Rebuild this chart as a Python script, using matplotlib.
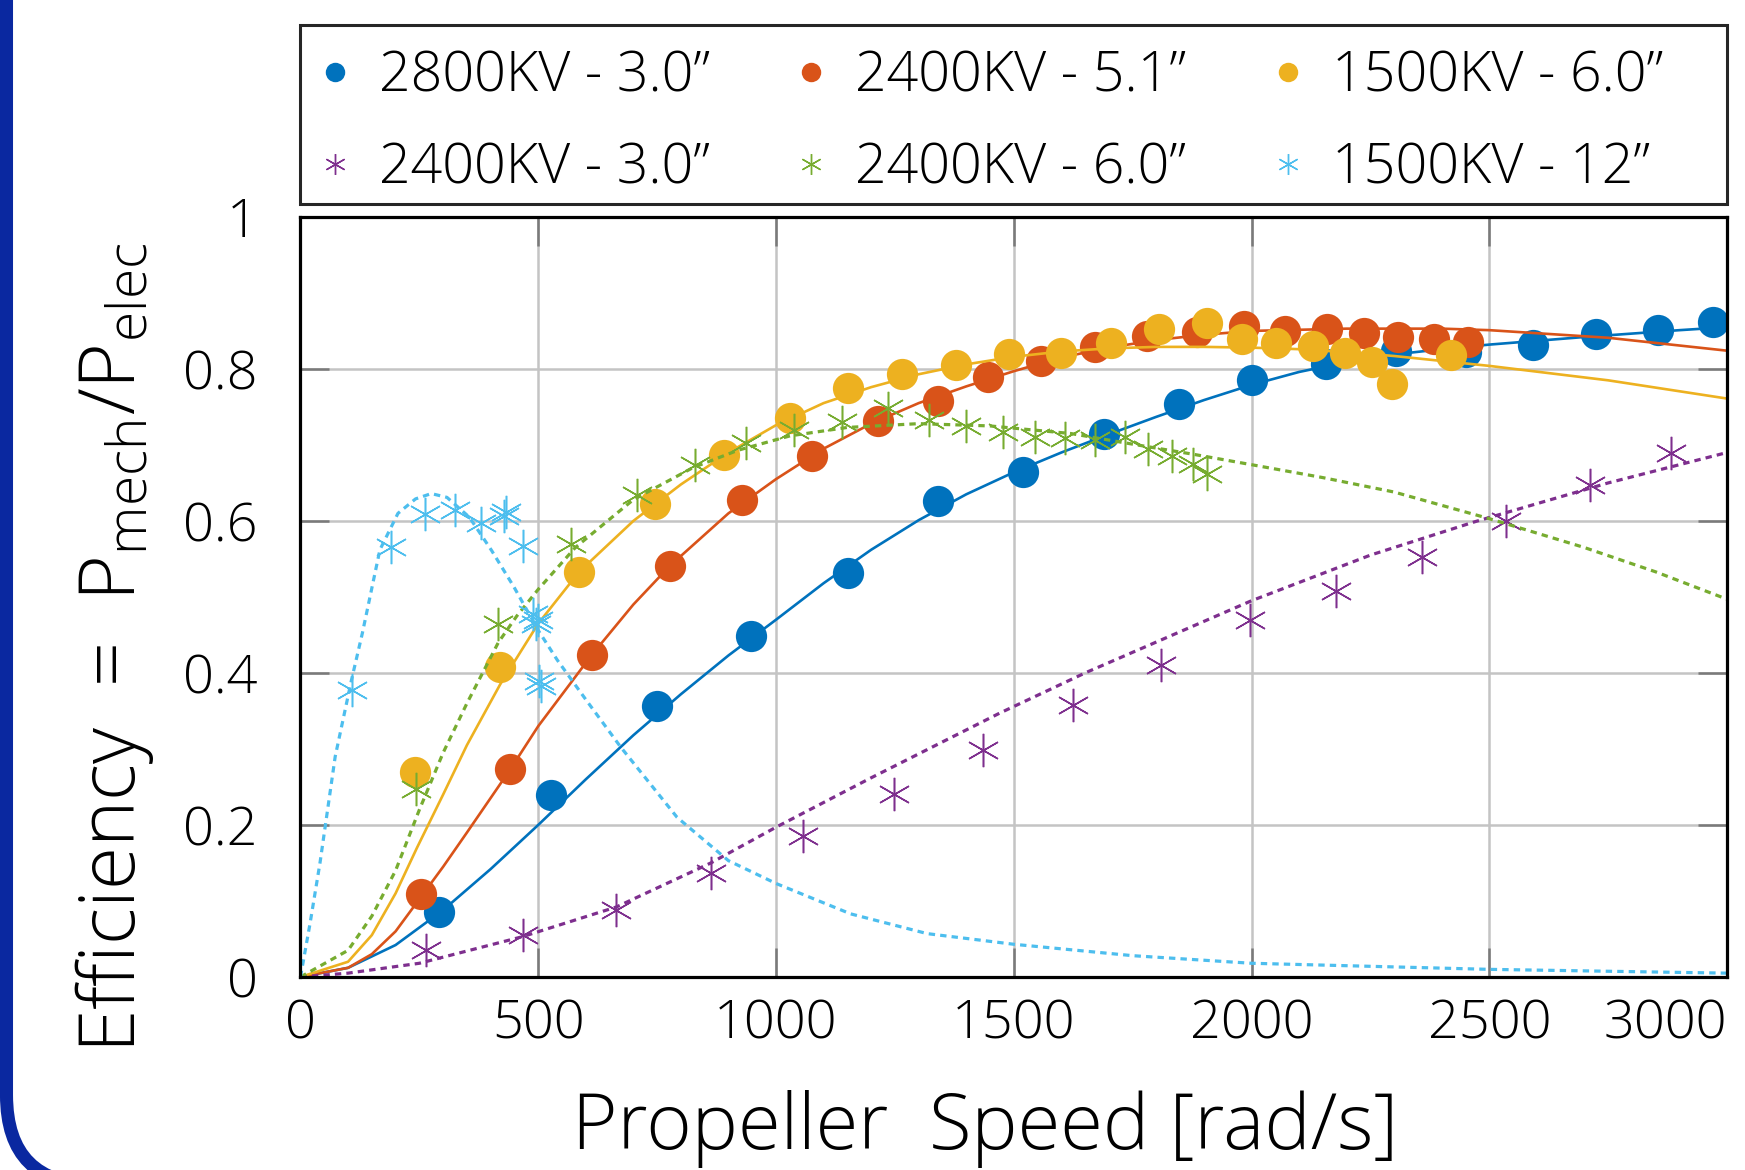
import matplotlib
matplotlib.use('Agg')
import matplotlib.pyplot as plt
from matplotlib.lines import Line2D
from matplotlib.patches import FancyBboxPatch, Rectangle
from matplotlib.transforms import IdentityTransform
import matplotlib.font_manager as fm

# ---------------- data ----------------
blue_x = [292, 526, 749, 948, 1152, 1340, 1519, 1690, 1848, 2000, 2156, 2304, 2452, 2591, 2725, 2854, 2970]
blue_y = [0.085, 0.239, 0.357, 0.448, 0.531, 0.626, 0.665, 0.714, 0.754, 0.785, 0.806, 0.824, 0.822, 0.832, 0.846, 0.851, 0.862]
blue_fit_x = [0, 100, 200, 300, 400, 500, 600, 700, 800, 900, 1000, 1100, 1200, 1300, 1400, 1500, 1600, 1700, 1800, 1900, 2000, 2100, 2200, 2300, 2400, 2500, 2700, 2900, 3000]
blue_fit_y = [0, 0.012, 0.042, 0.088, 0.142, 0.2, 0.26, 0.318, 0.372, 0.423, 0.47, 0.518, 0.562, 0.601, 0.635, 0.664, 0.69, 0.714, 0.737, 0.759, 0.779, 0.796, 0.809, 0.819, 0.826, 0.832, 0.842, 0.851, 0.855]

orange_x = [253, 440, 613, 777, 928, 1075, 1214, 1340, 1445, 1557, 1671, 1781, 1885, 1984, 2070, 2158, 2237, 2308, 2384, 2456]
orange_y = [0.109, 0.274, 0.424, 0.541, 0.627, 0.685, 0.731, 0.758, 0.790, 0.810, 0.829, 0.843, 0.848, 0.856, 0.850, 0.852, 0.847, 0.842, 0.839, 0.836]
orange_fit_x = [0, 100, 150, 200, 253, 300, 350, 440, 500, 613, 700, 777, 900, 1000, 1100, 1200, 1300, 1400, 1500, 1600, 1700, 1800, 1900, 2000, 2200, 2400, 2500, 2750, 3000]
orange_fit_y = [0, 0.012, 0.03, 0.06, 0.105, 0.145, 0.19, 0.272, 0.33, 0.424, 0.49, 0.541, 0.61, 0.655, 0.695, 0.728, 0.755, 0.777, 0.797, 0.815, 0.828, 0.838, 0.845, 0.85, 0.853, 0.853, 0.851, 0.841, 0.824]

yellow_x = [241, 420, 586, 745, 890, 1030, 1152, 1264, 1379, 1491, 1599, 1704, 1806, 1906, 1981, 2052, 2129, 2196, 2253, 2295, 2419]
yellow_y = [0.270, 0.408, 0.533, 0.622, 0.687, 0.736, 0.775, 0.793, 0.805, 0.819, 0.821, 0.834, 0.853, 0.860, 0.839, 0.834, 0.830, 0.821, 0.809, 0.780, 0.818]
yellow_fit_x = [0, 100, 150, 200, 245, 300, 350, 420, 500, 586, 700, 800, 900, 1000, 1100, 1200, 1300, 1400, 1500, 1600, 1700, 1800, 1900, 2000, 2100, 2200, 2300, 2500, 2750, 3000]
yellow_fit_y = [0, 0.02, 0.055, 0.11, 0.17, 0.24, 0.305, 0.385, 0.465, 0.533, 0.60, 0.648, 0.69, 0.726, 0.755, 0.776, 0.793, 0.806, 0.816, 0.823, 0.827, 0.829, 0.829, 0.828, 0.826, 0.822, 0.817, 0.804, 0.785, 0.761]

purple_x = [264, 467, 664, 863, 1057, 1248, 1436, 1624, 1810, 1997, 2178, 2358, 2535, 2712, 2882]
purple_y = [0.035, 0.055, 0.088, 0.137, 0.186, 0.241, 0.298, 0.358, 0.411, 0.469, 0.508, 0.552, 0.600, 0.647, 0.689]
purple_fit_x = [0, 100, 250, 467, 664, 863, 1000, 1200, 1470, 1650, 2000, 2250, 2470, 2750, 3000]
purple_fit_y = [0, 0.005, 0.018, 0.053, 0.092, 0.15, 0.197, 0.262, 0.347, 0.40, 0.495, 0.555, 0.599, 0.65, 0.69]

green_x = [243, 416, 569, 708, 830, 936, 1037, 1138, 1236, 1322, 1400, 1477, 1544, 1608, 1671, 1734, 1782, 1833, 1877, 1906]
green_y = [0.247, 0.464, 0.570, 0.634, 0.673, 0.702, 0.719, 0.730, 0.748, 0.733, 0.725, 0.717, 0.711, 0.709, 0.706, 0.710, 0.694, 0.685, 0.675, 0.662]
green_fit_x = [0, 100, 150, 200, 250, 300, 350, 416, 455, 500, 578, 700, 825, 920, 1030, 1150, 1300, 1450, 1620, 1750, 1875, 2000, 2150, 2300, 2500, 2700, 2850, 3000]
green_fit_y = [0, 0.035, 0.08, 0.14, 0.22, 0.295, 0.36, 0.44, 0.475, 0.51, 0.565, 0.628, 0.67, 0.693, 0.712, 0.723, 0.728, 0.725, 0.715, 0.701, 0.688, 0.674, 0.657, 0.638, 0.603, 0.565, 0.533, 0.497]

lblue_x = [108, 190, 262, 324, 379, 427, 432, 467, 490, 495, 500, 502, 506]
lblue_y = [0.378, 0.566, 0.609, 0.614, 0.597, 0.607, 0.612, 0.567, 0.478, 0.465, 0.470, 0.390, 0.383]
lblue_fit_x = [0, 20, 41, 73, 107, 130, 167, 205, 242, 275, 308, 355, 402, 449, 500, 540, 600, 674, 792, 900, 1000, 1157, 1318, 1500, 1750, 2000, 2500, 3000]
lblue_fit_y = [0, 0.07, 0.15, 0.29, 0.39, 0.452, 0.562, 0.61, 0.629, 0.636, 0.631, 0.605, 0.561, 0.513, 0.456, 0.417, 0.365, 0.302, 0.21, 0.153, 0.123, 0.083, 0.057, 0.043, 0.028, 0.018, 0.01, 0.005]

labels = ['2800KV - 3.0\u201d', '2400KV - 5.1\u201d', '1500KV - 6.0\u201d',
          '2400KV - 3.0\u201d', '2400KV - 6.0\u201d', '1500KV - 12\u201d']
xticks = [0, 500, 1000, 1500, 2000, 2500, 3000]
xtick_labels = ['0', '500', '1000', '1500', '2000', '2500', '3000']
yticks = [0, 0.2, 0.4, 0.6, 0.8, 1.0]
ytick_labels = ['0', '0.2', '0.4', '0.6', '0.8', '1']

# ---------------- style ----------------
names = {f.name for f in fm.fontManager.ttflist}
fam = 'Open Sans' if 'Open Sans' in names else 'DejaVu Sans'
plt.rcParams['font.family'] = [fam, 'DejaVu Sans']
plt.rcParams['font.weight'] = 'light'
plt.rcParams['mathtext.default'] = 'regular'

C_BLUE = '#0072BD'
C_ORANGE = '#D95319'
C_YELLOW = '#EDB120'
C_PURPLE = '#7E2F8E'
C_GREEN = '#77AC30'
C_LBLUE = '#4DBEEE'

fig = plt.figure(figsize=(17.45, 11.70), dpi=100)
ax = fig.add_axes([0.1722, 0.165, 0.8175, 0.6496])

MS_C = 22.5
MS_S = 24
DOT = (0, (2.0, 1.6))

circ = [(blue_x, blue_y, blue_fit_x, blue_fit_y, C_BLUE),
        (orange_x, orange_y, orange_fit_x, orange_fit_y, C_ORANGE),
        (yellow_x, yellow_y, yellow_fit_x, yellow_fit_y, C_YELLOW)]
for x, y, fx, fy, c in circ:
    ax.plot(x, y, linestyle='none', marker='o', ms=MS_C, mfc=c, mec='none', zorder=3)
    ax.plot(fx, fy, '-', color=c, lw=1.9, zorder=3)

stars = [(purple_x, purple_y, purple_fit_x, purple_fit_y, C_PURPLE),
         (green_x, green_y, green_fit_x, green_fit_y, C_GREEN),
         (lblue_x, lblue_y, lblue_fit_x, lblue_fit_y, C_LBLUE)]
for x, y, fx, fy, c in stars:
    ax.plot(x, y, linestyle='none', marker=(6, 2, 0), ms=MS_S, mec=c, mew=1.1, zorder=3)
    ax.plot(fx, fy, linestyle=DOT, color=c, lw=2.3, zorder=3)

ax.set_xlim(0, 3000)
ax.set_ylim(0, 1)
ax.set_xticks(xticks)
ax.set_xticklabels(xtick_labels)
ax.set_yticks(yticks)
ax.set_yticklabels(ytick_labels)
ax.get_xticklabels()[-1].set_horizontalalignment('right')
ax.grid(True, color='#C4C4C4', lw=1.8)
ax.set_axisbelow(True)
ax.tick_params(axis='both', direction='in', length=21, width=1.8, color='#7A7A7A',
               top=True, right=True, labelsize=39, labelcolor='black')
ax.tick_params(axis='x', pad=15)
ax.tick_params(axis='y', pad=31)
for s in ax.spines.values():
    s.set_linewidth(2.3)
    s.set_color('black')
    s.set_zorder(5)

# legend
handles = [
    Line2D([], [], linestyle='none', marker='o', ms=14, mfc=C_BLUE, mec='none'),
    Line2D([], [], linestyle='none', marker=(6, 2, 0), ms=15, mec=C_PURPLE, mew=1.0),
    Line2D([], [], linestyle='none', marker='o', ms=14, mfc=C_ORANGE, mec='none'),
    Line2D([], [], linestyle='none', marker=(6, 2, 0), ms=15, mec=C_GREEN, mew=1.0),
    Line2D([], [], linestyle='none', marker='o', ms=14, mfc=C_YELLOW, mec='none'),
    Line2D([], [], linestyle='none', marker=(6, 2, 0), ms=15, mec=C_LBLUE, mew=1.0),
]
leg_labels = [labels[0], labels[3], labels[1], labels[4], labels[2], labels[5]]
leg = fig.legend(handles, leg_labels, ncol=3, loc='upper left',
                 bbox_to_anchor=(0.1719, 0.9718), borderaxespad=0, fontsize=40,
                 frameon=False, borderpad=0.3, labelspacing=0.66,
                 handlelength=0.65, handletextpad=0.47, columnspacing=1.5)
fig.add_artist(Rectangle((300 / 1745, (1170 - 204) / 1170), (1727 - 300) / 1745, 179.5 / 1170,
                         transform=fig.transFigure, fill=False, lw=2.2, ec='#262626'))

# axis labels
fig.text(0.5645, 0.018, 'Propeller  Speed [rad/s]', ha='center', va='baseline', fontsize=56)
fig.text(0.0775, 0.446, r'Efficiency  =  P$_{\mathregular{mech}}$/P$_{\mathregular{elec}}$',
         rotation=90, rotation_mode='anchor', ha='center', va='baseline', fontsize=56.5)

# slide frame on the left
frame = FancyBboxPatch((6.5, -15), 5000, 3000, boxstyle='round,pad=0,rounding_size=90',
                       transform=IdentityTransform(), lw=9.4, edgecolor='#0A28A0',
                       facecolor='none', zorder=10)
fig.add_artist(frame)

fig.savefig('out.png', dpi=100)
